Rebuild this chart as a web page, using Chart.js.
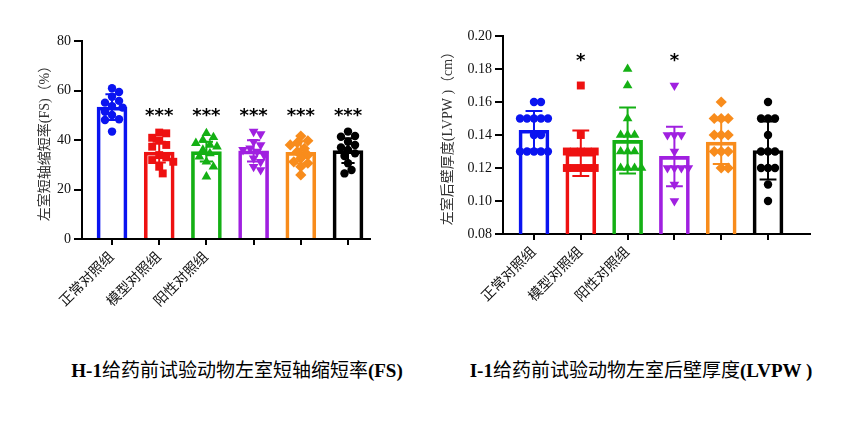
<!DOCTYPE html>
<html>
<head>
<meta charset="utf-8">
<script src="https://cdn.jsdelivr.net/npm/chart.js@4.4.1/dist/chart.umd.min.js"></script>
<style>
  body { margin: 0; background: #fff; width: 857px; height: 437px; overflow: hidden; position: relative; }
  canvas { position: absolute; top: 0; }
  .cap { position: absolute; top: 355px; transform: translateX(-50%); white-space: nowrap;
         font: 19px "Liberation Serif", "Noto Sans CJK SC"; color: #000; }
  .cap b { font-weight: bold; }
</style>
</head>
<body>
<canvas id="fs" width="425" height="330" style="left:0"></canvas>
<canvas id="lvpw" width="432" height="330" style="left:425px"></canvas>
<div class="cap" style="left:237px"><b>H-1</b>给药前试验动物左室短轴缩短率<b>(FS)</b></div>
<div class="cap" style="left:641px"><b>I-1</b>给药前试验动物左室后壁厚度<b>(LVPW )</b></div>
<script>
// 组别（后三组标签在原图中不可见）
const groups = ["正常对照组", "模型对照组", "阳性对照组", "", "", ""];
const colors = ["#0a14f0", "#ee1111", "#14b014", "#a020e0", "#f88c1c", "#000000"];
const shapes = ["circle", "rect", "triangle", "triangle", "rectRot", "circle"];
const turns  = [0, 0, 0, 180, 0, 0];

// H-1 左室短轴缩短率 FS (%)
const fsMean = [53.3, 35.1, 35.3, 35.6, 35.0, 35.7];
const fsSd   = [5.2, 4.2, 4.0, 4.3, 4.5, 5.0];
const fsPoints = [
  [60.9, 59.4, 57.5, 55.8, 55.1, 53.7, 53.1, 51.4, 50.1, 48.4, 48.1, 43.4],
  [43.0, 42.7, 40.9, 39.7, 38.0, 37.3, 33.9, 33.0, 31.9, 31.2, 29.2, 26.5],
  [42.7, 41.1, 40.0, 38.7, 38.0, 37.3, 36.0, 34.6, 33.3, 31.2, 29.2, 25.2],
  [43.4, 42.4, 39.3, 38.0, 36.6, 36.0, 35.3, 33.9, 32.6, 31.2, 29.2, 27.9],
  [41.6, 39.7, 38.9, 38.0, 36.6, 35.3, 33.9, 32.6, 31.2, 30.6, 29.2, 25.9],
  [43.4, 41.6, 41.3, 39.3, 38.0, 37.0, 36.0, 34.6, 33.5, 30.6, 27.9, 26.5]
];
const fsSig = ["", "***", "***", "***", "***", "***"];
const fsTicks = [0, 20, 40, 60, 80];

// I-1 左室后壁厚度 LVPW (cm)
const lvMean = [0.1429, 0.129, 0.1367, 0.127, 0.1357, 0.1306];
const lvSd   = [0.0117, 0.0138, 0.020, 0.018, 0.0133, 0.0176];
const lvPoints = [
  [0.16, 0.16, 0.15, 0.15, 0.15, 0.15, 0.15, 0.14, 0.14, 0.13, 0.13, 0.13, 0.13, 0.13],
  [0.17, 0.14, 0.13, 0.13, 0.13, 0.13, 0.13, 0.12, 0.12, 0.12, 0.12, 0.12],
  [0.18, 0.17, 0.15, 0.14, 0.14, 0.14, 0.13, 0.13, 0.13, 0.12, 0.12, 0.12, 0.12],
  [0.17, 0.14, 0.14, 0.14, 0.13, 0.12, 0.12, 0.12, 0.12, 0.11, 0.10],
  [0.16, 0.15, 0.15, 0.15, 0.14, 0.14, 0.14, 0.13, 0.13, 0.13, 0.12, 0.12],
  [0.16, 0.15, 0.15, 0.15, 0.14, 0.13, 0.13, 0.13, 0.12, 0.12, 0.12, 0.11, 0.10]
];
const lvSig = ["", "*", "", "*", "", ""];
const lvTicks = [0.08, 0.10, 0.12, 0.14, 0.16, 0.18, 0.20];

const serif = '"Liberation Serif", "Noto Sans CJK SC"';

// 点的横向散开（蜂群图）
function swarm(vals, pxPerUnit, slotPx, gap) {
  const out = new Array(vals.length).fill(0);
  const placed = [];
  const idx = vals.map((_, i) => i).sort((a, b) => vals[b] - vals[a]);
  for (const i of idx) {
    const py = vals[i] * pxPerUnit;
    for (let k = 0; k < 30; k++) {
      const dx = (k % 2 ? 1 : -1) * Math.ceil(k / 2) * gap / 2;
      if (placed.every(p => Math.hypot(p.x - dx, p.y - py) >= gap)) {
        out[i] = dx / slotPx;
        placed.push({ x: dx, y: py });
        break;
      }
    }
  }
  return out;
}

const sigPlugin = {
  id: "sig",
  afterDatasetsDraw(chart, args, opts) {
    const { ctx, scales: { x, y } } = chart;
    ctx.save();
    ctx.font = 'bold 18px "DejaVu Sans"';
    ctx.textAlign = "center";
    ctx.textBaseline = "alphabetic";
    ctx.fillStyle = "#000";
    opts.labels.forEach((t, i) => {
      if (t) ctx.fillText(t, x.getPixelForValue(i), y.getPixelForValue(opts.at));
    });
    ctx.restore();
  }
};

function makeChart(id, c) {
  const datasets = [];
  groups.forEach((g, i) => {
    const offs = swarm(c.points[i], c.pxPerUnit, 47, 7);
    datasets.push({
      type: "scatter",
      order: 2,
      data: c.points[i].map((v, k) => ({ x: i + offs[k], y: v })),
      pointStyle: shapes[i],
      rotation: turns[i],
      pointRadius: shapes[i] === "circle" ? 4.2 : 5.6,
      backgroundColor: colors[i],
      borderColor: colors[i],
      borderWidth: 0
    });
    const hi = c.mean[i] + c.sd[i], lo = c.mean[i] - c.sd[i], w = c.cap;
    datasets.push({
      type: "line",
      order: 1,
      data: [
        { x: i - w, y: hi }, { x: i + w, y: hi }, { x: i, y: null },
        { x: i, y: hi }, { x: i, y: lo }, { x: i, y: null },
        { x: i - w, y: lo }, { x: i + w, y: lo }
      ],
      borderColor: colors[i],
      borderWidth: 2,
      pointRadius: 0,
      spanGaps: false
    });
  });
  datasets.push({
    type: "bar",
    order: 3,
    data: c.mean.map((m, i) => ({ x: i, y: m })),
    backgroundColor: "rgba(255,255,255,0)",
    borderColor: colors,
    borderWidth: 3,
    barThickness: 30
  });

  new Chart(document.getElementById(id), {
    type: "bar",
    data: { datasets },
    plugins: [sigPlugin],
    options: {
      responsive: false,
      animation: false,
      layout: { padding: c.pad },
      plugins: {
        legend: { display: false },
        tooltip: { enabled: false },
        sig: { labels: c.sig, at: c.sigAt }
      },
      scales: {
        x: {
          type: "linear",
          offset: false,
          min: c.xMin,
          max: c.xMax,
          afterBuildTicks: s => { s.ticks = groups.map((g, i) => ({ value: i })); },
          afterFit: s => { s.height = 80; },
          grid: { offset: false, drawOnChartArea: false, color: "#000", lineWidth: 2, tickLength: 6 },
          border: { color: "#000", width: 2 },
          ticks: {
            autoSkip: false,
            minRotation: 45,
            maxRotation: 45,
            padding: 4,
            color: "#111",
            font: { family: serif, size: 14 },
            callback: (v, i) => groups[i]
          }
        },
        y: {
          min: c.ticks[0],
          max: c.ticks[c.ticks.length - 1],
          afterBuildTicks: s => { s.ticks = c.ticks.map(v => ({ value: v })); },
          afterFit: s => { s.width = c.yWidth; },
          grid: { drawOnChartArea: false, color: "#000", lineWidth: 2, tickLength: 8 },
          border: { color: "#000", width: 2 },
          ticks: {
            padding: 3,
            color: "#111",
            font: { family: serif, size: 14 },
            callback: c.fmt
          },
          title: {
            display: true,
            text: c.title,
            color: "#333",
            padding: 0,
            font: { family: serif, size: 14 }
          }
        }
      }
    }
  });
}

makeChart("fs", {
  mean: fsMean, sd: fsSd, points: fsPoints, sig: fsSig, sigAt: 47.7,
  ticks: fsTicks, fmt: v => String(v), pxPerUnit: 2.475, cap: 0.14,
  xMin: -0.636, xMax: 5.466, yWidth: 45,
  pad: { left: 37, right: 55, top: 41, bottom: 11 },
  title: "左室短轴缩短率(FS)（%）"
});

makeChart("lvpw", {
  mean: lvMean, sd: lvSd, points: lvPoints, sig: lvSig, sigAt: 0.182,
  ticks: lvTicks, fmt: v => v.toFixed(2), pxPerUnit: 1650, cap: 0.18,
  xMin: -0.662, xMax: 5.897, yWidth: 63,
  pad: { left: 15, right: 47, top: 36, bottom: 16 },
  title: "左室后壁厚度(LVPW )（cm）"
});
</script>
</body>
</html>
